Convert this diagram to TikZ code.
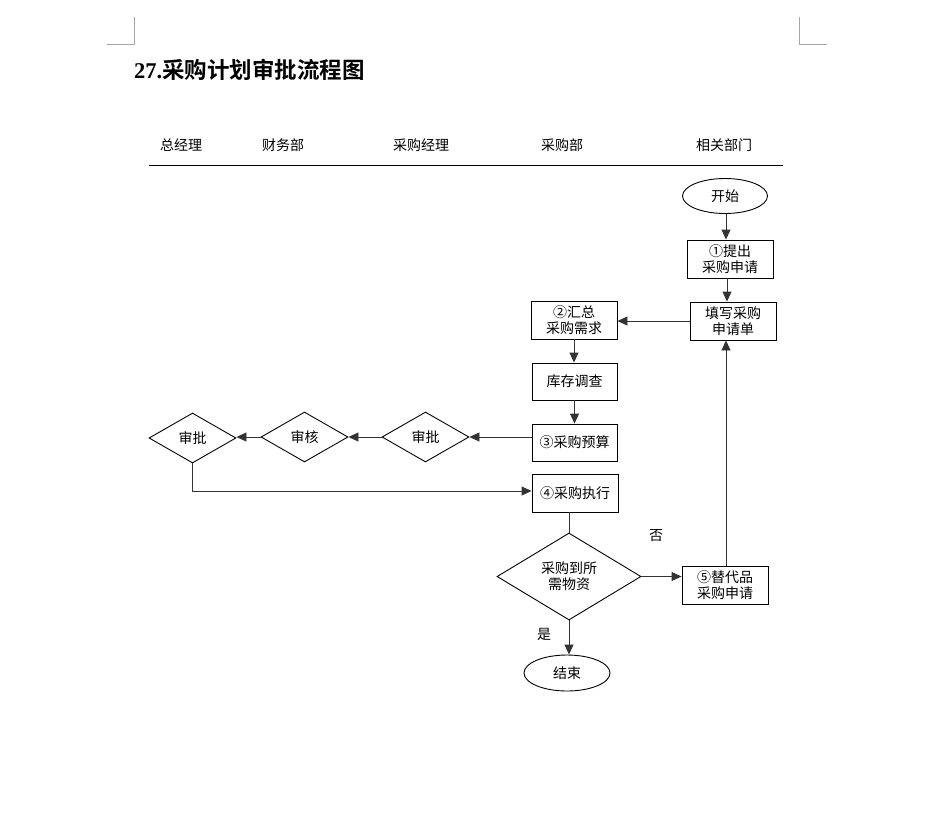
\documentclass[tikz,border=0pt]{standalone}
\usepackage{fontspec}
\newfontfamily\cjk{Noto Sans CJK SC}
\newfontfamily\cjkb{Noto Sans CJK SC}[BoldFont={* Bold}]
\newfontfamily\titlelat{Liberation Serif}
\usetikzlibrary{arrows.meta,shapes.geometric}
\begin{document}
\begin{tikzpicture}[x=1pt,y=-1pt,
  every node/.style={font=\cjk\fontsize{14}{16}\selectfont, inner sep=0pt, align=center},
  box/.style={draw, line width=0.9pt, minimum width=86pt, minimum height=38pt},
  dia/.style={draw, line width=0.9pt, diamond, minimum width=87pt, minimum height=50pt, aspect=1.74},
  ell/.style={draw, line width=0.9pt, ellipse, minimum width=85pt, minimum height=35pt},
  conn/.style={line width=0.9pt, draw=black!80},
  arr/.style={conn, -{Triangle[length=10pt,width=9pt]}},
  lab/.style={font=\cjk\fontsize{14}{16}\selectfont}
]
\useasboundingbox (0,0) rectangle (941,838);
% corner marks
\draw[black!35, line width=0.8pt] (134,17) -- (134,44) -- (107,44);
\draw[black!35, line width=0.8pt] (799,17) -- (799,44) -- (827,44);
% title
\node[anchor=west, font=\fontsize{22.5}{24}\selectfont] (title) at (134,70) {{\titlelat\bfseries 27.}{\cjkb\bfseries 采购计划审批流程图}};
% lane headers
\node[lab] (h1) at (181,145) {总经理};
\node[lab] (h2) at (283,145) {财务部};
\node[lab] (h3) at (421,145) {采购经理};
\node[lab] (h4) at (562,145) {采购部};
\node[lab] (h5) at (724,145) {相关部门};
\draw[line width=1pt] (149,165) -- (783,165);
% nodes
\node[ell] (start) at (725,196) {开始};
\node[box] (s1) at (730,259) {①提出\\采购申请};
\node[box] (fill) at (733,321) {填写采购\\申请单};
\node[box] (s2) at (574,320) {②汇总\\采购需求};
\node[box, minimum width=85pt, minimum height=37pt] (inv) at (574.5,381.5) {库存调查};
\node[box, minimum width=85pt, minimum height=37pt] (s3) at (574.5,442.5) {③采购预算};
\node[dia] (ap1) at (425.5,437) {审批};
\node[dia] (rev) at (304.5,437) {审核};
\node[dia] (ap2) at (192.5,438) {审批};
\node[box] (s4) at (575,493) {④采购执行};
\node[dia, minimum width=144pt, minimum height=87pt, aspect=1.66] (dec) at (569,576.5) {采购到所\\需物资};
\node[box] (s5) at (725,585.5) {⑤替代品\\采购申请};
\node[ell, minimum width=86pt, minimum height=36pt] (end) at (567,673) {结束};
\node[lab] (no) at (656,536) {否};
\node[lab] (yes) at (544,634) {是};
% connectors
\draw[arr] (start.south -| 726,0) -- (s1.north -| 726,0);
\draw[arr] (s1.south -| 727,0) -- (fill.north -| 727,0);
\draw[arr] (fill.west) -- (s2.east |- fill.west);
\draw[arr] (s2.south) -- (inv.north -| s2.south);
\draw[arr] (inv.south) -- (s3.north);
\draw[arr] (s3.west |- ap1.east) -- (ap1.east);
\draw[arr] (ap1.west) -- (rev.east);
\draw[arr] (rev.west) -- (ap2.east |- rev.west);
\draw[arr] (ap2.south) |- (s4.west |- 0,491);
\draw[conn] (s4.south -| dec.north) -- (dec.north);
\draw[arr] (dec.east) -- (s5.west |- dec.east);
\draw[arr] (s5.north -| 726,0) -- (fill.south -| 726,0);
\draw[arr] (dec.south) -- (end.north -| dec.south);
\end{tikzpicture}
\end{document}
